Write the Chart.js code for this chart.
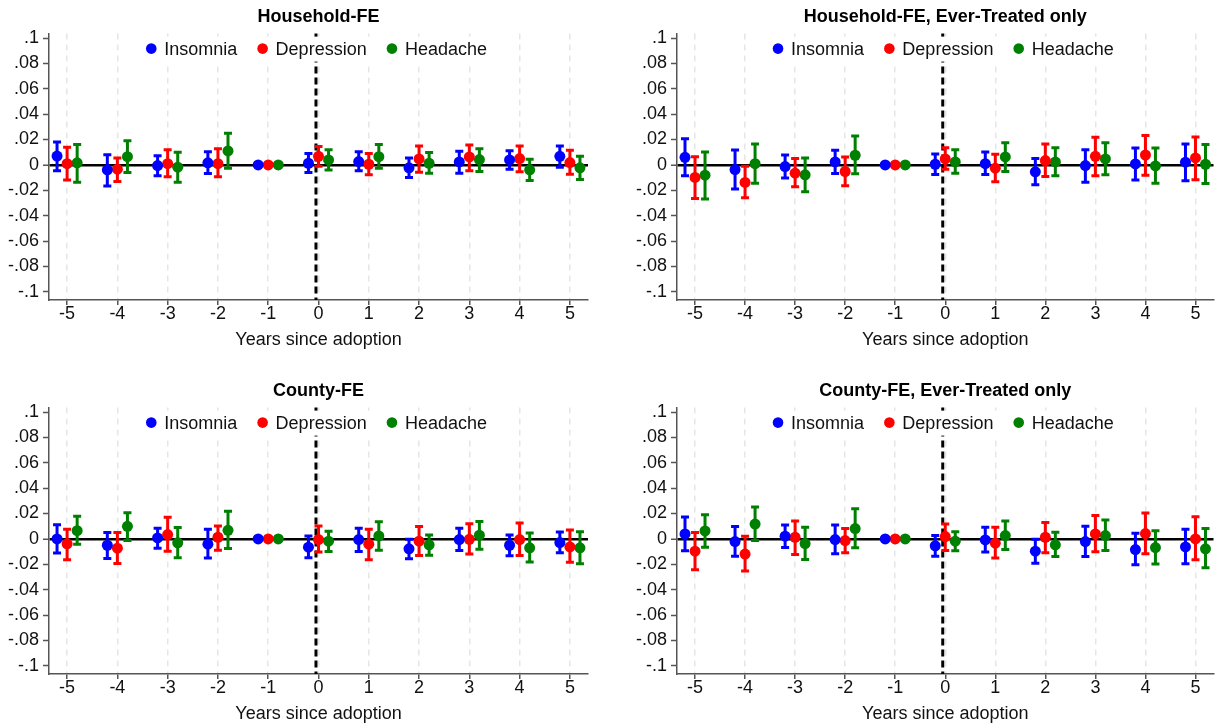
<!DOCTYPE html>
<html>
<head>
<meta charset="utf-8">
<title>Event study: symptoms by years since adoption</title>
<script src="https://cdn.jsdelivr.net/npm/chart.js@4.4.1/dist/chart.umd.min.js"></script>
<style>
  body { margin: 0; background: #fff; }
  #wrap { position: relative; width: 1219px; height: 728px; overflow: hidden; }
  .panel { position: absolute; }
</style>
</head>
<body>
<div id="wrap">
  <canvas class="panel" id="hhChart" width="609" height="354" style="left:0;top:0"></canvas>
  <canvas class="panel" id="hhEverChart" width="609" height="354" style="left:610px;top:0"></canvas>
  <canvas class="panel" id="cntyChart" width="609" height="354" style="left:0;top:374px"></canvas>
  <canvas class="panel" id="cntyEverChart" width="609" height="354" style="left:610px;top:374px"></canvas>
</div>
<script>
'use strict';

// ── Data ─────────────────────────────────────────────
const years = [-5, -4, -3, -2, -1, 0, 1, 2, 3, 4, 5];
const yTicks = [-0.1, -0.08, -0.06, -0.04, -0.02, 0, 0.02, 0.04, 0.06, 0.08, 0.1];
const yTickLabels = ['-.1', '-.08', '-.06', '-.04', '-.02', '0', '.02', '.04', '.06', '.08', '.1'];
const seriesNames = ['Insomnia', 'Depression', 'Headache'];

// Household-FE
const hhInsomnia     = [0.0070, -0.0040, -0.0005, 0.0016, 0, 0.0013, 0.0026, -0.0023, 0.0023, 0.0039, 0.0068];
const hhInsomniaLo   = [-0.0047, -0.0167, -0.0086, -0.0068, null, -0.0060, -0.0047, -0.0099, -0.0065, -0.0034, -0.0018];
const hhInsomniaHi   = [0.0180, 0.0080, 0.0073, 0.0104, null, 0.0090, 0.0104, 0.0055, 0.0107, 0.0112, 0.0149];
const hhDepression   = [0.0010, -0.0034, 0.0010, 0.0010, 0, 0.0068, 0.0005, 0.0047, 0.0063, 0.0050, 0.0018];
const hhDepressionLo = [-0.0120, -0.0130, -0.0094, -0.0094, null, -0.0010, -0.0078, -0.0057, -0.0047, -0.0055, -0.0073];
const hhDepressionHi = [0.0140, 0.0055, 0.0120, 0.0128, null, 0.0146, 0.0089, 0.0149, 0.0157, 0.0149, 0.0115];
const hhHeadache     = [0.0016, 0.0065, -0.0018, 0.0110, 0, 0.0039, 0.0065, 0.0013, 0.0042, -0.0039, -0.0023];
const hhHeadacheLo   = [-0.0136, -0.0060, -0.0136, -0.0026, null, -0.0040, -0.0026, -0.0065, -0.0052, -0.0123, -0.0115];
const hhHeadacheHi   = [0.0160, 0.0190, 0.0099, 0.0250, null, 0.0120, 0.0160, 0.0097, 0.0128, 0.0044, 0.0068];

// Household-FE, Ever-Treated only
const hhEvInsomnia     = [0.0060, -0.0037, -0.0013, 0.0023, 0, 0.0005, 0.0010, -0.0055, -0.0005, 0.0008, 0.0021];
const hhEvInsomniaLo   = [-0.0086, -0.0190, -0.0104, -0.0068, null, -0.0076, -0.0076, -0.0157, -0.0136, -0.0120, -0.0125];
const hhEvInsomniaHi   = [0.0206, 0.0117, 0.0078, 0.0115, null, 0.0086, 0.0102, 0.0050, 0.0120, 0.0133, 0.0164];
const hhEvDepression   = [-0.0099, -0.0138, -0.0065, -0.0052, 0, 0.0047, -0.0026, 0.0034, 0.0068, 0.0078, 0.0055];
const hhEvDepressionLo = [-0.0264, -0.0258, -0.0172, -0.0164, null, -0.0034, -0.0133, -0.0091, -0.0086, -0.0081, -0.0117];
const hhEvDepressionHi = [0.0065, -0.0010, 0.0050, 0.0063, null, 0.0136, 0.0084, 0.0164, 0.0217, 0.0232, 0.0219];
const hhEvHeadache     = [-0.0081, 0.0010, -0.0078, 0.0076, 0, 0.0023, 0.0063, 0.0023, 0.0047, -0.0008, 0.0005];
const hhEvHeadacheLo   = [-0.0269, -0.0144, -0.0211, -0.0070, null, -0.0065, -0.0052, -0.0086, -0.0078, -0.0144, -0.0146];
const hhEvHeadacheHi   = [0.0102, 0.0164, 0.0055, 0.0227, null, 0.0120, 0.0175, 0.0136, 0.0175, 0.0133, 0.0160];

// County-FE
const cInsomnia     = [0.0000, -0.0050, 0.0008, -0.0042, 0, -0.0065, -0.0005, -0.0078, -0.0005, -0.0050, -0.0029];
const cInsomniaLo   = [-0.0112, -0.0154, -0.0073, -0.0151, null, -0.0149, -0.0099, -0.0157, -0.0091, -0.0133, -0.0110];
const cInsomniaHi   = [0.0112, 0.0050, 0.0084, 0.0076, null, 0.0023, 0.0084, -0.0003, 0.0084, 0.0031, 0.0055];
const cDepression   = [-0.0039, -0.0073, 0.0034, 0.0013, 0, -0.0005, -0.0042, -0.0018, -0.0003, -0.0005, -0.0063];
const cDepressionLo = [-0.0164, -0.0193, -0.0097, -0.0089, null, -0.0104, -0.0164, -0.0130, -0.0120, -0.0130, -0.0185];
const cDepressionHi = [0.0076, 0.0050, 0.0170, 0.0102, null, 0.0102, 0.0076, 0.0097, 0.0120, 0.0125, 0.0070];
const cHeadache     = [0.0065, 0.0099, -0.0031, 0.0068, 0, -0.0018, 0.0023, -0.0047, 0.0029, -0.0070, -0.0070];
const cHeadacheLo   = [-0.0042, -0.0013, -0.0149, -0.0076, null, -0.0099, -0.0089, -0.0128, -0.0081, -0.0183, -0.0196];
const cHeadacheHi   = [0.0178, 0.0206, 0.0089, 0.0217, null, 0.0060, 0.0136, 0.0031, 0.0138, 0.0047, 0.0057];

// County-FE, Ever-Treated only
const cEvInsomnia     = [0.0039, -0.0021, 0.0021, -0.0005, 0, -0.0055, -0.0008, -0.0097, -0.0021, -0.0084, -0.0063];
const cEvInsomniaLo   = [-0.0094, -0.0136, -0.0068, -0.0117, null, -0.0136, -0.0104, -0.0191, -0.0138, -0.0204, -0.0196];
const cEvInsomniaHi   = [0.0172, 0.0097, 0.0110, 0.0110, null, 0.0026, 0.0091, -0.0003, 0.0099, 0.0044, 0.0076];
const cEvDepression   = [-0.0097, -0.0120, 0.0013, -0.0013, 0, 0.0018, -0.0034, 0.0013, 0.0039, 0.0042, 0.0000];
const cEvDepressionLo = [-0.0243, -0.0253, -0.0123, -0.0110, null, -0.0091, -0.0151, -0.0110, -0.0102, -0.0117, -0.0164];
const cEvDepressionHi = [0.0050, 0.0021, 0.0141, 0.0081, null, 0.0117, 0.0091, 0.0130, 0.0185, 0.0204, 0.0175];
const cEvHeadache     = [0.0063, 0.0117, -0.0037, 0.0081, 0, -0.0018, 0.0026, -0.0047, 0.0026, -0.0068, -0.0078];
const cEvHeadacheLo   = [-0.0065, -0.0013, -0.0162, -0.0070, null, -0.0094, -0.0084, -0.0138, -0.0091, -0.0198, -0.0227];
const cEvHeadacheHi   = [0.0191, 0.0251, 0.0091, 0.0238, null, 0.0057, 0.0141, 0.0052, 0.0149, 0.0065, 0.0081];

// ── Styling ──────────────────────────────────────────
const FONT = '"Liberation Sans", Arial, sans-serif';
const FONT_SIZE = 18;
const seriesColors = ['#0000ff', '#ff0000', '#008000'];
const seriesShift  = [-0.2, 0, 0.2];
const adoptionLine = -0.05;

// error bars + dashed adoption line, drawn through the chart scales
const errorBarPlugin = {
    id: 'errorBars',
    beforeDatasetsDraw(chart) {
        const { ctx, chartArea, scales: { x, y } } = chart;
        ctx.save();

        const lx = x.getPixelForValue(adoptionLine);
        ctx.strokeStyle = '#000';
        ctx.lineWidth = 3;
        ctx.setLineDash([7, 4]);
        ctx.beginPath();
        ctx.moveTo(lx, chartArea.top);
        ctx.lineTo(lx, chartArea.bottom);
        ctx.stroke();
        ctx.setLineDash([]);

        chart.data.datasets.forEach(ds => {
            ctx.strokeStyle = ds.borderColor;
            ctx.lineWidth = 3;
            ds.data.forEach(pt => {
                if (pt.lo == null || pt.hi == null) return;
                const px = x.getPixelForValue(pt.x);
                const yLo = y.getPixelForValue(pt.lo);
                const yHi = y.getPixelForValue(pt.hi);
                ctx.beginPath();
                ctx.moveTo(px, yLo); ctx.lineTo(px, yHi);
                ctx.moveTo(px - 4, yLo); ctx.lineTo(px + 4, yLo);
                ctx.moveTo(px - 4, yHi); ctx.lineTo(px + 4, yHi);
                ctx.stroke();
            });
        });
        ctx.restore();
    }
};

// legend sitting inside the plot region on a white box (Stata style)
const insideLegendPlugin = {
    id: 'insideLegend',
    afterDatasetsDraw(chart) {
        const { ctx, chartArea } = chart;
        const r = 5.3, textGap = 13, itemGap = 20;
        ctx.save();
        ctx.font = `${FONT_SIZE}px ${FONT}`;
        const items = chart.data.datasets.map(ds => ({
            text: ds.label, color: ds.backgroundColor, w: ctx.measureText(ds.label).width
        }));
        const total = items.reduce((s, it) => s + 2 * r + (textGap - r) + it.w, 0) + itemGap * (items.length - 1);
        const cy = chartArea.top + 15;
        let x = (chartArea.left + chartArea.right) / 2 - total / 2 - 2;

        ctx.fillStyle = '#fff';
        ctx.fillRect(x - 8, cy - 12, total + 16, 25);

        ctx.textBaseline = 'middle';
        ctx.textAlign = 'left';
        items.forEach(it => {
            ctx.fillStyle = it.color;
            ctx.beginPath();
            ctx.arc(x + r, cy, r, 0, Math.PI * 2);
            ctx.fill();
            ctx.fillStyle = '#111';
            ctx.fillText(it.text, x + r + textGap, cy + 1);
            x += r + textGap + it.w + itemGap;
        });
        ctx.restore();
    }
};

function buildSeries(est, lo, hi, k) {
    return {
        label: seriesNames[k],
        data: years.map((yr, i) => ({ x: yr + seriesShift[k], y: est[i], lo: lo[i], hi: hi[i] })),
        backgroundColor: seriesColors[k],
        borderColor: seriesColors[k],
        borderWidth: 0,
        pointRadius: 5.5,
        pointHoverRadius: 5.5,
        pointStyle: 'circle'
    };
}

function makePanel(id, title, datasets, axisWidth, padRight) {
    new Chart(document.getElementById(id), {
        type: 'scatter',
        data: { datasets },
        plugins: [errorBarPlugin, insideLegendPlugin],
        options: {
            responsive: false,
            animation: false,
            events: [],
            layout: { padding: { top: 0, left: 0, right: padRight, bottom: 0 } },
            scales: {
                x: {
                    type: 'linear',
                    min: -5.36,
                    max: 5.36,
                    afterBuildTicks: s => { s.ticks = years.map(v => ({ value: v })); },
                    afterFit: s => { s.height = 54; },
                    ticks: {
                        color: '#111',
                        padding: 0,
                        font: { family: FONT, size: FONT_SIZE, lineHeight: 1 },
                        callback: v => String(v)
                    },
                    grid: {
                        color: '#e6e6e6',
                        lineWidth: 1.5,
                        tickColor: '#555',
                        tickLength: 5,
                        tickWidth: 1.5,
                        tickBorderDash: []
                    },
                    border: { color: '#555', width: 1.5, dash: [6, 5] },
                    title: {
                        display: true,
                        text: 'Years since adoption',
                        color: '#111',
                        font: { family: FONT, size: FONT_SIZE },
                        padding: { top: 0, bottom: 3 }
                    }
                },
                y: {
                    type: 'linear',
                    min: -0.1065,
                    max: 0.1035,
                    afterBuildTicks: s => { s.ticks = yTicks.map(v => ({ value: v })); },
                    afterFit: s => { s.width = axisWidth; },
                    ticks: {
                        color: '#111',
                        padding: 4,
                        font: { family: FONT, size: FONT_SIZE },
                        callback: v => yTickLabels[yTicks.findIndex(t => Math.abs(t - v) < 1e-9)]
                    },
                    grid: {
                        color: c => (c.tick && Math.abs(c.tick.value) < 1e-9) ? '#000' : 'rgba(0,0,0,0)',
                        lineWidth: c => (c.tick && Math.abs(c.tick.value) < 1e-9) ? 2.5 : 1,
                        tickColor: '#555',
                        tickLength: 6,
                        tickWidth: 1.5
                    },
                    border: { color: '#555', width: 1.5 }
                }
            },
            plugins: {
                title: {
                    display: true,
                    text: title,
                    fullSize: false,
                    color: '#000',
                    font: { family: FONT, size: FONT_SIZE, weight: 'bold' },
                    padding: { top: 6, bottom: 6 }
                },
                legend: { display: false },
                tooltip: { enabled: false }
            }
        }
    });
}

makePanel('hhChart', 'Household-FE', [
    buildSeries(hhInsomnia, hhInsomniaLo, hhInsomniaHi, 0),
    buildSeries(hhDepression, hhDepressionLo, hhDepressionHi, 1),
    buildSeries(hhHeadache, hhHeadacheLo, hhHeadacheHi, 2)
], 49, 21);

makePanel('hhEverChart', 'Household-FE, Ever-Treated only', [
    buildSeries(hhEvInsomnia, hhEvInsomniaLo, hhEvInsomniaHi, 0),
    buildSeries(hhEvDepression, hhEvDepressionLo, hhEvDepressionHi, 1),
    buildSeries(hhEvHeadache, hhEvHeadacheLo, hhEvHeadacheHi, 2)
], 67, 3);

makePanel('cntyChart', 'County-FE', [
    buildSeries(cInsomnia, cInsomniaLo, cInsomniaHi, 0),
    buildSeries(cDepression, cDepressionLo, cDepressionHi, 1),
    buildSeries(cHeadache, cHeadacheLo, cHeadacheHi, 2)
], 49, 21);

makePanel('cntyEverChart', 'County-FE, Ever-Treated only', [
    buildSeries(cEvInsomnia, cEvInsomniaLo, cEvInsomniaHi, 0),
    buildSeries(cEvDepression, cEvDepressionLo, cEvDepressionHi, 1),
    buildSeries(cEvHeadache, cEvHeadacheLo, cEvHeadacheHi, 2)
], 67, 3);
</script>
</body>
</html>
